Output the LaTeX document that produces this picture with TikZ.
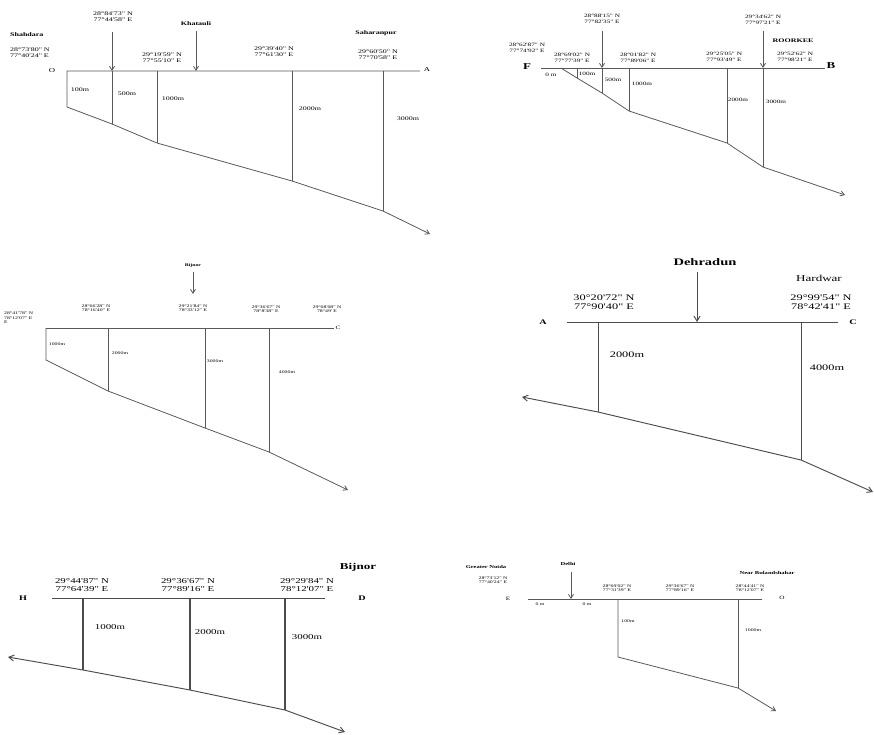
\documentclass[tikz,border=0pt]{standalone}
\usepackage{fontspec}
\setmainfont{Liberation Serif}
\newfontfamily\stretchserif[FakeStretch=1.45]{Liberation Serif}
\usepackage{tikz}
\usetikzlibrary{arrows.meta}

\tikzset{
  ln/.style={draw=black!65, line width=0.8pt},
  lnd/.style={draw=black!70, line width=0.95pt},
  arr/.style={ln, -{Straight Barb[length=4pt,width=5pt]}},
  arrd/.style={lnd, -{Straight Barb[length=5pt,width=6pt]}},
  coord/.style 2 args={font=\stretchserif\fontsize{#1}{#2}\selectfont, align=center, inner sep=0pt},
  place/.style 2 args={font=\stretchserif\bfseries\fontsize{#1}{#2}\selectfont, align=center, inner sep=0pt},
}

\begin{document}
\begin{tikzpicture}[x=1pt,y=-1pt]
\useasboundingbox (0,0) rectangle (874,734);

% Shahdara - Saharanpur
\coordinate (o1) at (67,71);
\coordinate (a1) at (420,71);
\coordinate (s0) at (67,107);
\coordinate (s1) at (112,124);
\coordinate (s2) at (157,143);
\coordinate (s3) at (292,181);
\coordinate (s4) at (383,211);
\coordinate (s5) at (430,234);
\coordinate (k0) at (112,32);
\coordinate (k1) at (196,31);
\draw[ln] (a1) -- (o1) -- (s0) -- (s1) -- (s2) -- (s3) -- (s4);
\draw[arr] (s4) -- (s5);
\foreach \p in {s1,s2,s3,s4} \draw[ln] (\p |- o1) -- (\p);
\draw[arr] (k0) -- (k0 |- o1);
\draw[arr] (k1) -- (k1 |- o1);
\node[place={5.5}{6}, anchor=west] (shahdara) at (10,35) {Shahdara};
\node[coord={5.5}{6}, align=left, anchor=west] (c11) at (10,53) {28°73'80" N\\77°40'24" E};
\node[coord={6}{6}] (lo1) at (52,71) {O};
\node[coord={5.5}{6}] (c12) at (113,17) {28°84'73" N\\77°44'58" E};
\node[place={5.5}{6}] (khatauli) at (196,24) {Khatauli};
\node[coord={5.5}{6}] (c13) at (162,58) {29°19'59" N\\77°55'10" E};
\node[coord={5.5}{6}] (c14) at (274,52) {29°39'40" N\\77°61'30" E};
\node[place={5.5}{6}] (saharanpur) at (376,33) {Saharanpur};
\node[coord={5.5}{6}] (c15) at (378,55) {29°60'50" N\\77°70'58" E};
\node[coord={6}{6}] (la1) at (427,70) {A};
\node[coord={5.5}{6}] (h11) at (80,90) {100m};
\node[coord={5.5}{6}] (h12) at (127,94) {500m};
\node[coord={5.5}{6}] (h13) at (173,99) {1000m};
\node[coord={5.5}{6}] (h14) at (310,109) {2000m};
\node[coord={5.5}{6}] (h15) at (408,119) {3000m};

% F - B
\coordinate (f2) at (541,68);
\coordinate (b2) at (825,68);
\coordinate (r0) at (561,68);
\coordinate (r1) at (577,78);
\coordinate (r2) at (602,93);
\coordinate (r3) at (629,111);
\coordinate (r4) at (727,143);
\coordinate (r5) at (763,167);
\coordinate (r6) at (845,195);
\coordinate (m0) at (602,31);
\coordinate (m1) at (763,31);
\draw[ln] (f2) -- (b2);
\draw[ln] (r0) -- (r1) -- (r2) -- (r3) -- (r4) -- (r5);
\draw[arr] (r5) -- (r6);
\foreach \p in {r1,r2,r3,r4,r5} \draw[ln] (\p |- f2) -- (\p);
\draw[arr] (m0) -- (m0 |- f2);
\draw[arr] (m1) -- (m1 |- f2);
\node[place={9}{10}] (lf2) at (527,67) {F};
\node[place={9}{10}] (lb2) at (831,66) {B};
\node[coord={5}{5.5}] (c21) at (527,48) {28°62'87" N\\77°74'92" E};
\node[coord={5}{5.5}] (c22) at (602,19) {28°88'15" N\\77°82'35" E};
\node[coord={5}{5.5}] (c23) at (572,58) {28°69'02" N\\77°77'39" E};
\node[coord={5}{5.5}] (c24) at (638,58) {28°01'82" N\\77°89'06" E};
\node[coord={5}{5.5}] (c25) at (724,57) {29°25'05" N\\77°93'49" E};
\node[coord={5}{5.5}] (c26) at (763,20) {29°34'62" N\\77°97'21" E};
\node[place={5.5}{6}] (roorkee) at (793,41) {ROORKEE};
\node[coord={5}{5.5}] (c27) at (795,57) {29°52'62" N\\77°98'21" E};
\node[coord={5}{5.5}] (h21) at (551,75) {0 m};
\node[coord={5}{5.5}] (h22) at (587,74) {100m};
\node[coord={5}{5.5}] (h23) at (613,80) {500m};
\node[coord={5}{5.5}] (h24) at (642,84) {1000m};
\node[coord={5}{5.5}] (h25) at (738,100) {2000m};
\node[coord={5}{5.5}] (h26) at (776,102) {3000m};

% - C (Bijnor)
\coordinate (l3) at (46,328);
\coordinate (c3) at (334,328);
\coordinate (t0) at (46,360);
\coordinate (t1) at (108,391);
\coordinate (t2) at (205,428);
\coordinate (t3) at (269,452);
\coordinate (t4) at (348,490);
\coordinate (n3) at (193,272);
\draw[ln] (l3) -- (c3);
\draw[ln] (l3) -- (t0) -- (t1) -- (t2) -- (t3);
\draw[arr] (t3) -- (t4);
\foreach \p in {t1,t2,t3} \draw[ln] (\p |- l3) -- (\p);
\draw[arr] (n3) -- ++(0,22);
\node[place={4}{4.5}] (bijnor3) at (193,266) {Bijnor};
\node[coord={4}{4.6}, align=left, anchor=west] (c31) at (4,318) {28°41'78" N\\78°12'07" E\\E};
\node[coord={4}{4.6}] (c32) at (96,308) {28°66'28" N\\78°16'40" E};
\node[coord={4}{4.6}] (c33) at (193,308) {29°21'84" N\\78°33'12" E};
\node[coord={4}{4.6}] (c34) at (266,309) {29°36'67" N\\78°8'38" E};
\node[coord={4}{4.6}] (c35) at (327,309) {29°08'08" N\\78°49' E};
\node[coord={5}{5}] (lc3) at (338,328) {C};
\node[coord={4}{4.6}] (h31) at (57,344) {1000m};
\node[coord={4}{4.6}] (h32) at (120,353) {2000m};
\node[coord={4}{4.6}] (h33) at (215,361) {3000m};
\node[coord={4}{4.6}] (h34) at (287,372) {4000m};

% A - C (Dehradun, Hardwar)
\coordinate (a4) at (567,322);
\coordinate (c4) at (838,322);
\coordinate (u0) at (522,397);
\coordinate (u1) at (598,412);
\coordinate (u2) at (801,460);
\coordinate (u3) at (873,492);
\coordinate (dd) at (697,272);
\draw[lnd] (a4) -- (c4);
\draw[arrd] (u1) -- (u0);
\draw[lnd] (u1) -- (u2);
\draw[arrd] (u2) -- (u3);
\foreach \p in {u1,u2} \draw[lnd] (\p |- a4) -- (\p);
\draw[arrd] (dd) -- (dd |- a4);
\node[place={10}{11}] (dehradun) at (705,262) {Dehradun};
\node[coord={9}{9}] (hardwar) at (819,278) {Hardwar};
\node[coord={8.5}{9.5}] (c41) at (604,302) {30°20'72" N\\77°90'40" E};
\node[coord={8.5}{9.5}] (c42) at (821,302) {29°99'54" N\\78°42'41" E};
\node[place={7}{8}] (la4) at (543,322) {A};
\node[place={7}{8}] (lc4) at (853,322) {C};
\node[coord={8.5}{9.5}] (h41) at (627,355) {2000m};
\node[coord={8.5}{9.5}] (h42) at (827,368) {4000m};

% H - D
\coordinate (h5) at (52,598);
\coordinate (d5) at (325,598);
\coordinate (v0) at (8,657);
\coordinate (v1) at (83,670);
\coordinate (v2) at (190,690);
\coordinate (v3) at (285,710);
\coordinate (v4) at (345,732);
\draw[lnd] (h5) -- (d5);
\draw[arrd] (v1) -- (v0);
\draw[lnd] (v1) -- (v2) -- (v3);
\draw[arrd] (v3) -- (v4);
\foreach \p in {v1,v2,v3} \draw[lnd, line width=1.15pt] (\p |- h5) -- (\p);
\node[place={9}{10}] (bijnor5) at (358,567) {Bijnor};
\node[coord={7.5}{8}] (c51) at (82,585) {29°44'87" N\\77°64'39" E};
\node[coord={7.5}{8}] (c52) at (188,585) {29°36'67" N\\77°89'16" E};
\node[coord={7.5}{8}] (c53) at (307,585) {29°29'84" N\\78°12'07" E};
\node[place={7}{8}] (lh5) at (23,598) {H};
\node[place={7}{8}] (ld5) at (362,598) {D};
\node[coord={7.5}{8}] (h51) at (110,627) {1000m};
\node[coord={7.5}{8}] (h52) at (210,632) {2000m};
\node[coord={7.5}{8}] (h53) at (307,637) {3000m};

% E - O (Delhi)
\coordinate (e6) at (528,599);
\coordinate (o6) at (762,599);
\coordinate (w0) at (618,657);
\coordinate (w1) at (738,688);
\coordinate (w2) at (776,711);
\coordinate (dl) at (571,572);
\draw[ln] (e6) -- (o6);
\draw[ln] (w0 |- e6) -- (w0) -- (w1);
\draw[ln] (w1 |- e6) -- (w1);
\draw[arr] (w1) -- (w2);
\draw[arr] (dl) -- (dl |- e6);
\node[place={4.5}{5}] (noida) at (486,567) {Greater Noida};
\node[coord={4}{4.6}] (c61) at (493,580) {28°73'12" N\\77°40'24" E};
\node[place={4.5}{5}] (delhi) at (568,564) {Delhi};
\node[coord={5}{5}] (le6) at (508,599) {E};
\node[coord={5}{5}] (lo6) at (782,598) {O};
\node[coord={4}{4.6}] (h61) at (540,604) {0 m};
\node[coord={4}{4.6}] (h62) at (587,604) {0 m};
\node[coord={4}{4.6}] (c62) at (617,588) {28°69'02" N\\77°31'39" E};
\node[coord={4}{4.6}] (c63) at (680,588) {29°36'67" N\\77°89'16" E};
\node[place={4.5}{5}] (bulandshahar) at (767,573) {Near Bulandshahar};
\node[coord={4}{4.6}] (c64) at (750,588) {28°44'41" N\\78°12'07" E};
\node[coord={4}{4.6}] (h63) at (628,621) {100m};
\node[coord={4}{4.6}] (h64) at (753,630) {1000m};
\end{tikzpicture}
\end{document}
